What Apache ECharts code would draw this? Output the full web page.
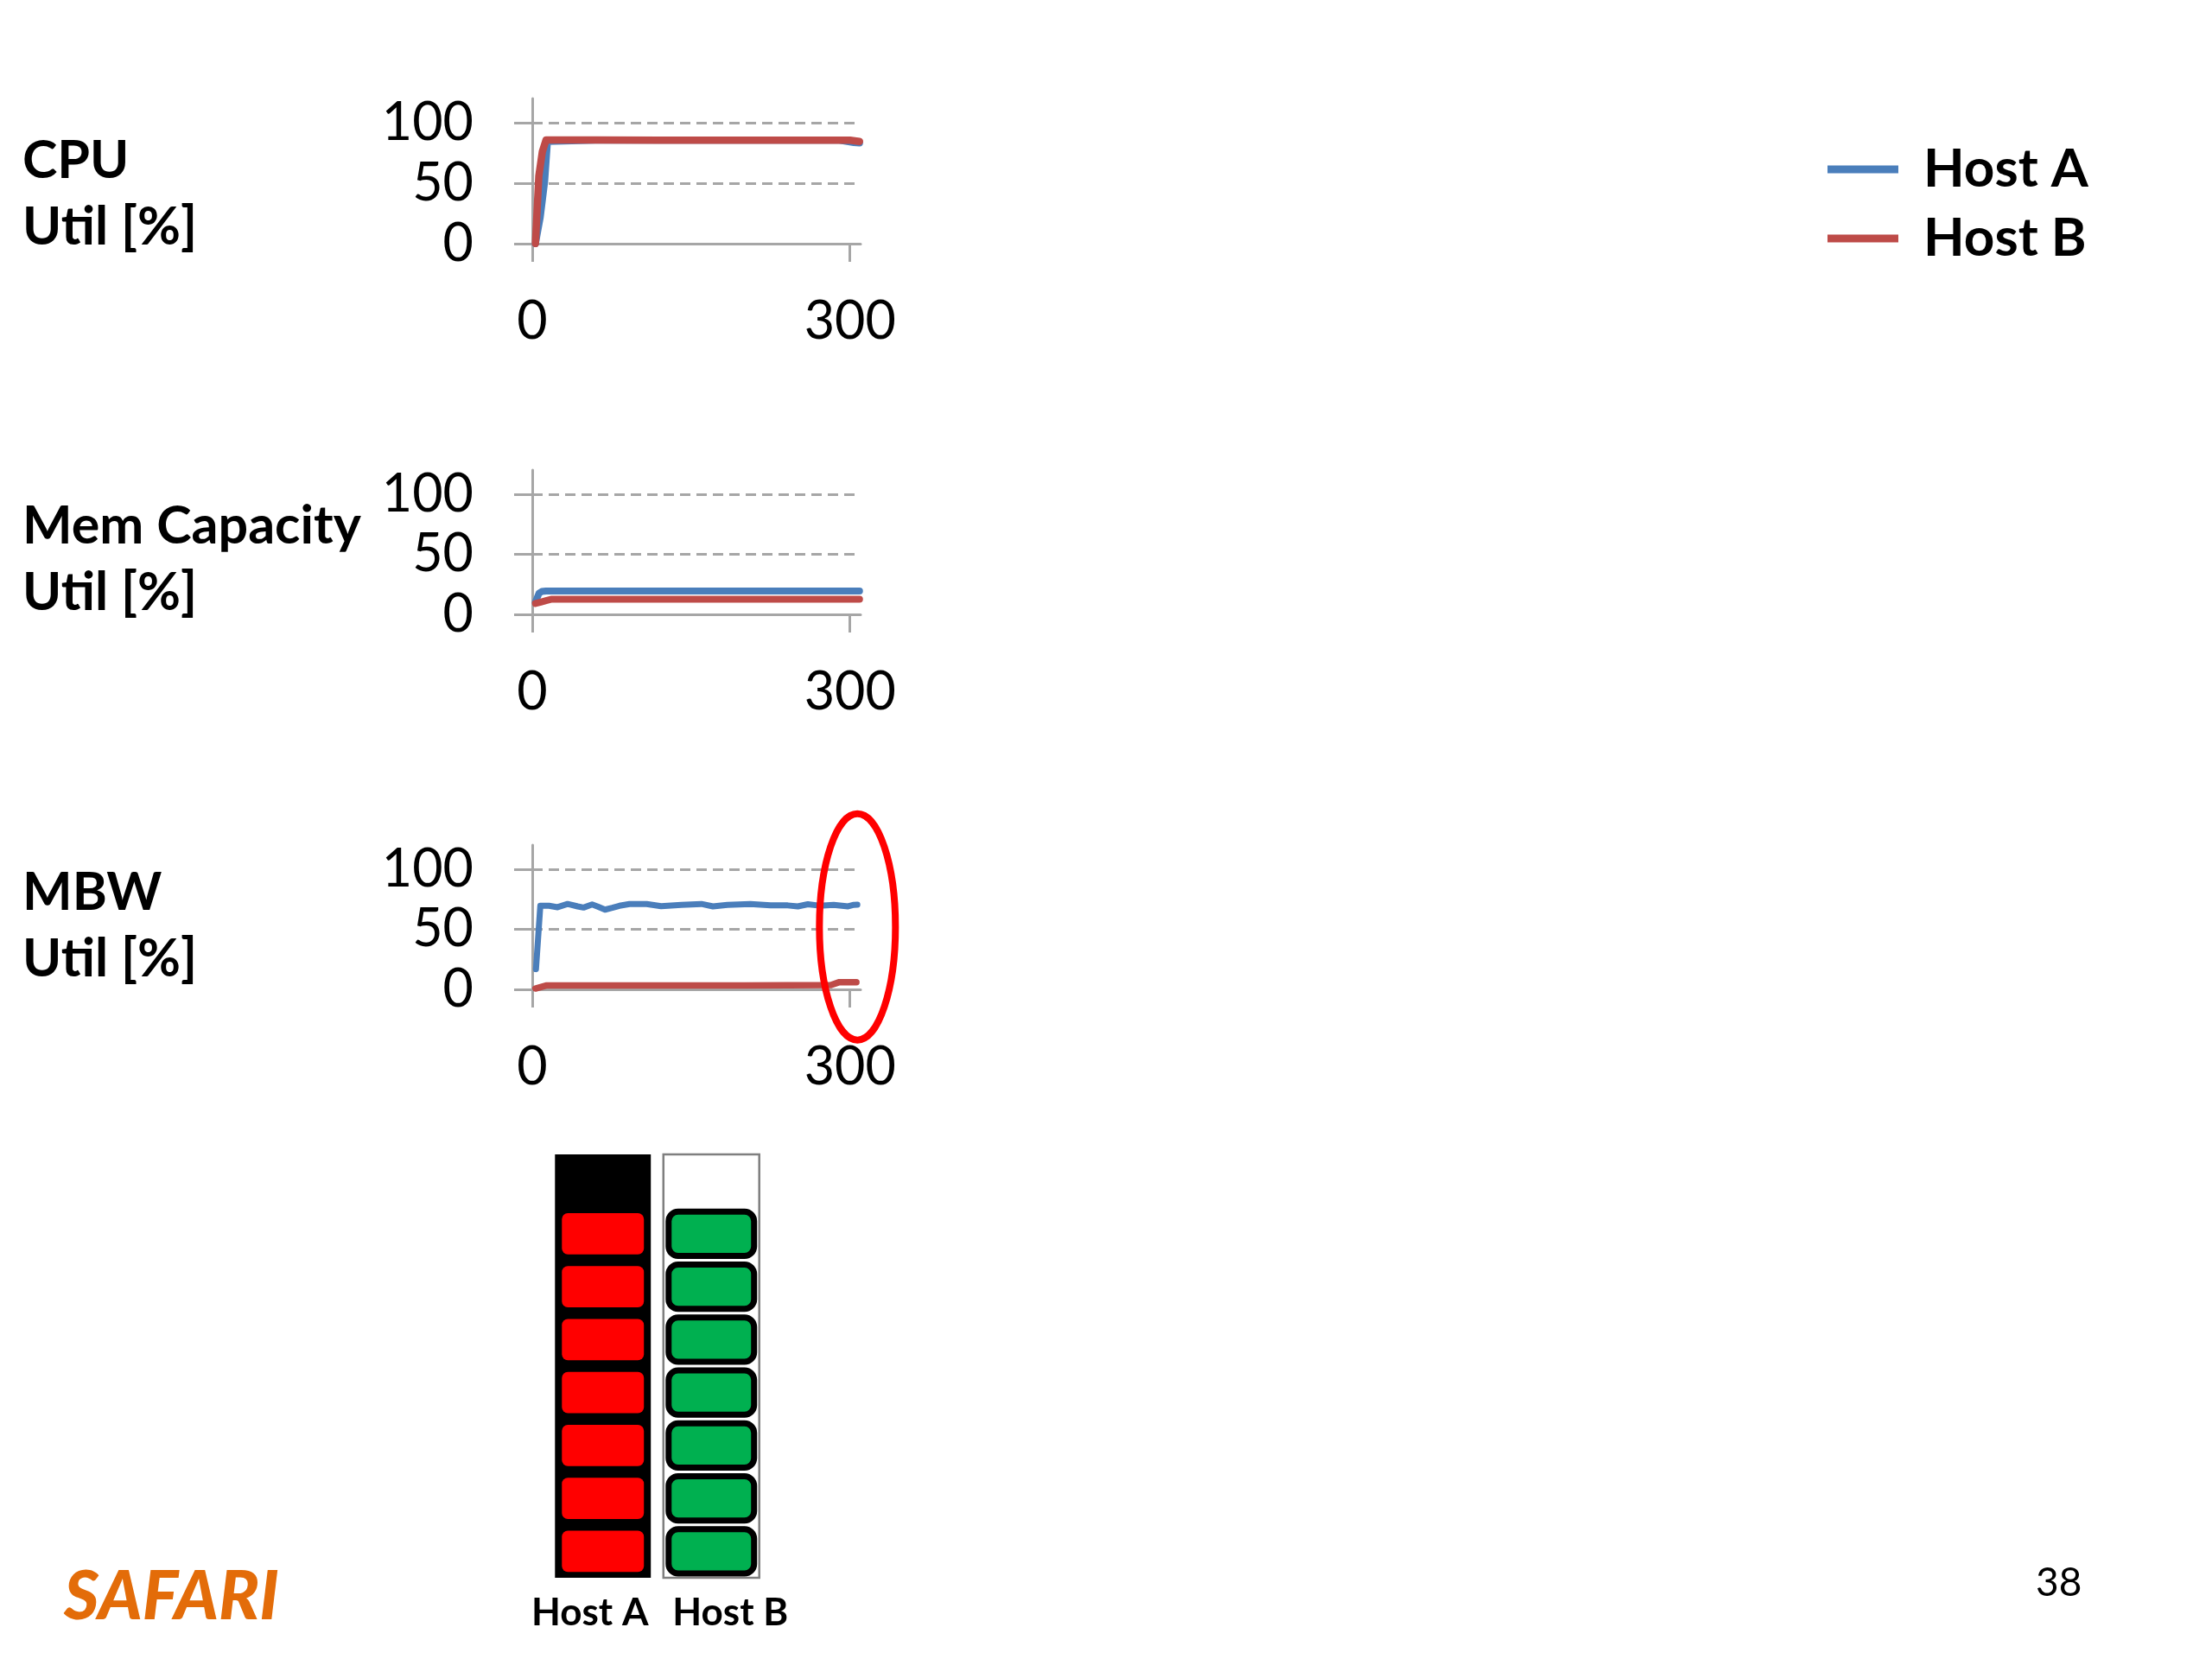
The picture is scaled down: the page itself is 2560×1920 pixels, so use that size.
<!DOCTYPE html>
<html>
<head>
<meta charset="utf-8">
<script src="https://cdn.jsdelivr.net/npm/echarts@6/dist/echarts.min.js"></script>
<style>
html,body{margin:0;padding:0;background:#fff;}
#c{width:2560px;height:1920px;}
</style>
</head>
<body>
<div id="c"></div>
<script>
// ---------------- data ----------------
const seriesNames = ['Host A', 'Host B'];
const xTickValues = [0, 300];
const yTickValues = [0, 50, 100];
const rowLabels = ['CPU\nUtil [%]', 'Mem Capacity\nUtil [%]', 'MBW\nUtil [%]'];

// CPU utilisation [%] vs time [s]
const cpuTimeA = [3, 7.6, 11.7, 14.4, 60, 120, 180, 240, 290, 303.6, 309];
const cpuA     = [0, 22, 51, 84.5, 85.5, 85.5, 85.5, 85.5, 85.5, 83.5, 83.2];
const cpuTimeB = [3, 6.2, 9.5, 13, 60, 120, 180, 240, 300, 309];
const cpuB     = [0, 56, 76, 85.7, 85.7, 85.5, 85.5, 85.5, 85.5, 84.5];

// Memory capacity utilisation [%]
const memTimeA = [3, 6.3, 9, 13, 100, 200, 309];
const memA     = [10.2, 17.5, 19, 19.4, 19.4, 19.4, 19.4];
const memTimeB = [3, 8, 13, 18.5, 100, 200, 309];
const memB     = [9, 10.2, 11.4, 12.6, 12.6, 12.6, 12.6];

// Memory bandwidth utilisation [%]
const mbwTimeA = [3.5, 7.6, 15.8, 23.9, 33.4, 42.9, 48.4, 56.5, 61.9, 68.7, 75.5, 82.3, 91.8, 108, 121.7, 140.7, 159.7, 170.6, 184.2, 205.9, 224.9, 241.2, 250.7, 260.2, 271, 284.6, 298.2, 303.6, 306.9];
const mbwA     = [16.8, 69.5, 69.5, 68.3, 71, 69, 68, 70.6, 68.8, 66.3, 67.8, 69.5, 71, 71, 69.2, 70.3, 71, 69, 70.3, 71, 69.8, 69.8, 69, 70.8, 69.6, 70.3, 69, 70.3, 70.5];
const mbwTimeB = [3, 13, 100, 200, 282, 290, 306];
const mbwB     = [0.7, 3.2, 3.2, 3.2, 3.6, 6, 6];

// Host slot diagram
const hosts = ['Host A', 'Host B'];
const hostCapacity = [8, 8];
const hostSlotsUsed = [7, 7];

// highlighted region (MBW chart, end of run)
const highlightCenter = [307, 52];

// ---------------- chart ----------------
const FONT = 'Lato';
const BLUE = '#4A7EBB';
const RED = '#BE4B48';
const AXIS = '#A6A6A6';

function pairs(t, v) { return t.map((x, i) => [x, v[i]]); }

const gridDefs = [
  {left: 616, top: 114, width: 380, height: 168},
  {left: 616, top: 544, width: 380, height: 167},
  {left: 616, top: 978, width: 380, height: 167}
];
const rowTops = [148, 571, 995];

const xAxes = [], yAxes = [], series = [];
gridDefs.forEach((g, i) => {
  xAxes.push({
    gridIndex: i, type: 'value', min: 0, max: 310,
    axisLine: {show: true, lineStyle: {color: AXIS, width: 3}},
    axisTick: {show: true, customValues: xTickValues, length: 21, lineStyle: {color: AXIS, width: 3}},
    axisLabel: {customValues: xTickValues, margin: 60, fontSize: 61, color: '#000', fontFamily: FONT},
    splitLine: {show: false}
  });
  yAxes.push({
    gridIndex: i, type: 'value', min: 0, max: 120,
    axisLine: {show: true, lineStyle: {color: AXIS, width: 3}},
    axisTick: {show: true, customValues: yTickValues, length: 21, lineStyle: {color: AXIS, width: 3}},
    axisLabel: {customValues: yTickValues, margin: 68, fontSize: 61, color: '#000', fontFamily: FONT},
    splitLine: {show: true, lineStyle: {color: AXIS, width: 3, type: [12, 7]}}
  });
});

const lineSets = [
  [pairs(cpuTimeA, cpuA), pairs(cpuTimeB, cpuB), 8, 8.5],
  [pairs(memTimeA, memA), pairs(memTimeB, memB), 8, 8],
  [pairs(mbwTimeA, mbwA), pairs(mbwTimeB, mbwB), 7, 7.5]
];
lineSets.forEach((s, i) => {
  series.push({name: seriesNames[0], type: 'line', xAxisIndex: i, yAxisIndex: i, data: s[0],
    showSymbol: false, color: BLUE, lineStyle: {color: BLUE, width: s[2], cap: 'round', join: 'round'}, z: 3});
  series.push({name: seriesNames[1], type: 'line', xAxisIndex: i, yAxisIndex: i, data: s[1],
    showSymbol: false, color: RED, lineStyle: {color: RED, width: s[3], cap: 'round', join: 'round'}, z: 4});
});

// host diagram grid
gridDefs.push({left: 635, top: 1336, width: 251, height: 490});
xAxes.push({
  gridIndex: 3, type: 'category', data: hosts,
  axisLine: {show: false}, axisTick: {show: false},
  axisLabel: {
    margin: 19,
    formatter: (v, i) => (i === 0 ? '{a|' + v + '}' : '{b|' + v + '}'),
    rich: {
      a: {fontFamily: FONT, fontWeight: 'bold', fontSize: 44, color: '#000', padding: [0, 30, 0, 0]},
      b: {fontFamily: FONT, fontWeight: 'bold', fontSize: 44, color: '#000', padding: [0, 0, 0, 44]}
    }
  }
});
yAxes.push({gridIndex: 3, type: 'value', min: 0, max: 8, show: false});

series.push({
  type: 'custom', xAxisIndex: 3, yAxisIndex: 3, z: 2,
  data: hosts.map((h, i) => [i, hostCapacity[i]]),
  renderItem(params, api) {
    const hi = api.value(0);
    const top = api.coord([hi, api.value(1)]);
    const bot = api.coord([hi, 0]);
    const w = api.size([1, 0])[0] * 0.884;
    return {
      type: 'rect',
      shape: {x: top[0] - w / 2, y: top[1], width: w, height: bot[1] - top[1]},
      style: hi === 0 ? {fill: '#000'} : {fill: '#fff', stroke: '#7F7F7F', lineWidth: 2.5}
    };
  }
});
const slotData = [];
hosts.forEach((h, i) => { for (let k = 0; k < hostSlotsUsed[i]; k++) slotData.push([i, k]); });
series.push({
  type: 'custom', xAxisIndex: 3, yAxisIndex: 3, z: 3,
  data: slotData,
  renderItem(params, api) {
    const hi = api.value(0), k = api.value(1);
    const top = api.coord([hi, k + 1]);
    const bot = api.coord([hi, k]);
    const w = api.size([1, 0])[0] * 0.884;
    const h = bot[1] - top[1];
    if (hi === 0) {
      return {type: 'rect',
        shape: {x: top[0] - w / 2 + 8, y: top[1] + h * 0.11, width: w - 16, height: h * 0.78, r: 7},
        style: {fill: '#FF0000'}};
    }
    return {type: 'rect',
      shape: {x: top[0] - w / 2 + 6, y: top[1] + 5, width: w - 12, height: h - 10, r: 11},
      style: {fill: '#00B050', stroke: '#000', lineWidth: 7}};
  }
});

const titles = rowLabels.map((t, i) => ({
  text: t, left: 26, top: rowTops[i], padding: 0,
  textStyle: {fontFamily: FONT, fontWeight: 'bold', fontSize: 61, lineHeight: 77, color: '#000'}
}));
titles.push({text: 'SAFARI', left: 74, top: 1810, padding: 0,
  textStyle: {fontFamily: FONT, fontWeight: 900, fontStyle: 'italic', fontSize: 78, lineHeight: 78, color: '#E36C09'}});
titles.push({text: '38', left: 2356, top: 1809, padding: 0,
  textStyle: {fontFamily: FONT, fontWeight: 'normal', fontSize: 46, lineHeight: 46, color: '#000'}});

const chart = echarts.init(document.getElementById('c'), null, {renderer: 'canvas'});
chart.setOption({
  animation: false,
  backgroundColor: '#fff',
  title: titles,
  legend: {
    data: seriesNames, orient: 'vertical', left: 2115, top: 158,
    icon: 'rect', itemWidth: 82, itemHeight: 9, itemGap: 4, padding: 0,
    textStyle: {fontFamily: FONT, fontWeight: 'bold', fontSize: 62, lineHeight: 76, color: '#000', padding: [0, 0, 0, 24]},
    selectedMode: false
  },
  grid: gridDefs,
  xAxis: xAxes,
  yAxis: yAxes,
  series: series
});

const c = chart.convertToPixel({gridIndex: 2}, highlightCenter);
chart.setOption({
  graphic: [{
    type: 'ellipse', z: 100,
    shape: {cx: c[0], cy: c[1], rx: 44, ry: 131},
    style: {fill: 'none', stroke: '#FF0000', lineWidth: 8}
  }]
});
</script>
</body>
</html>
